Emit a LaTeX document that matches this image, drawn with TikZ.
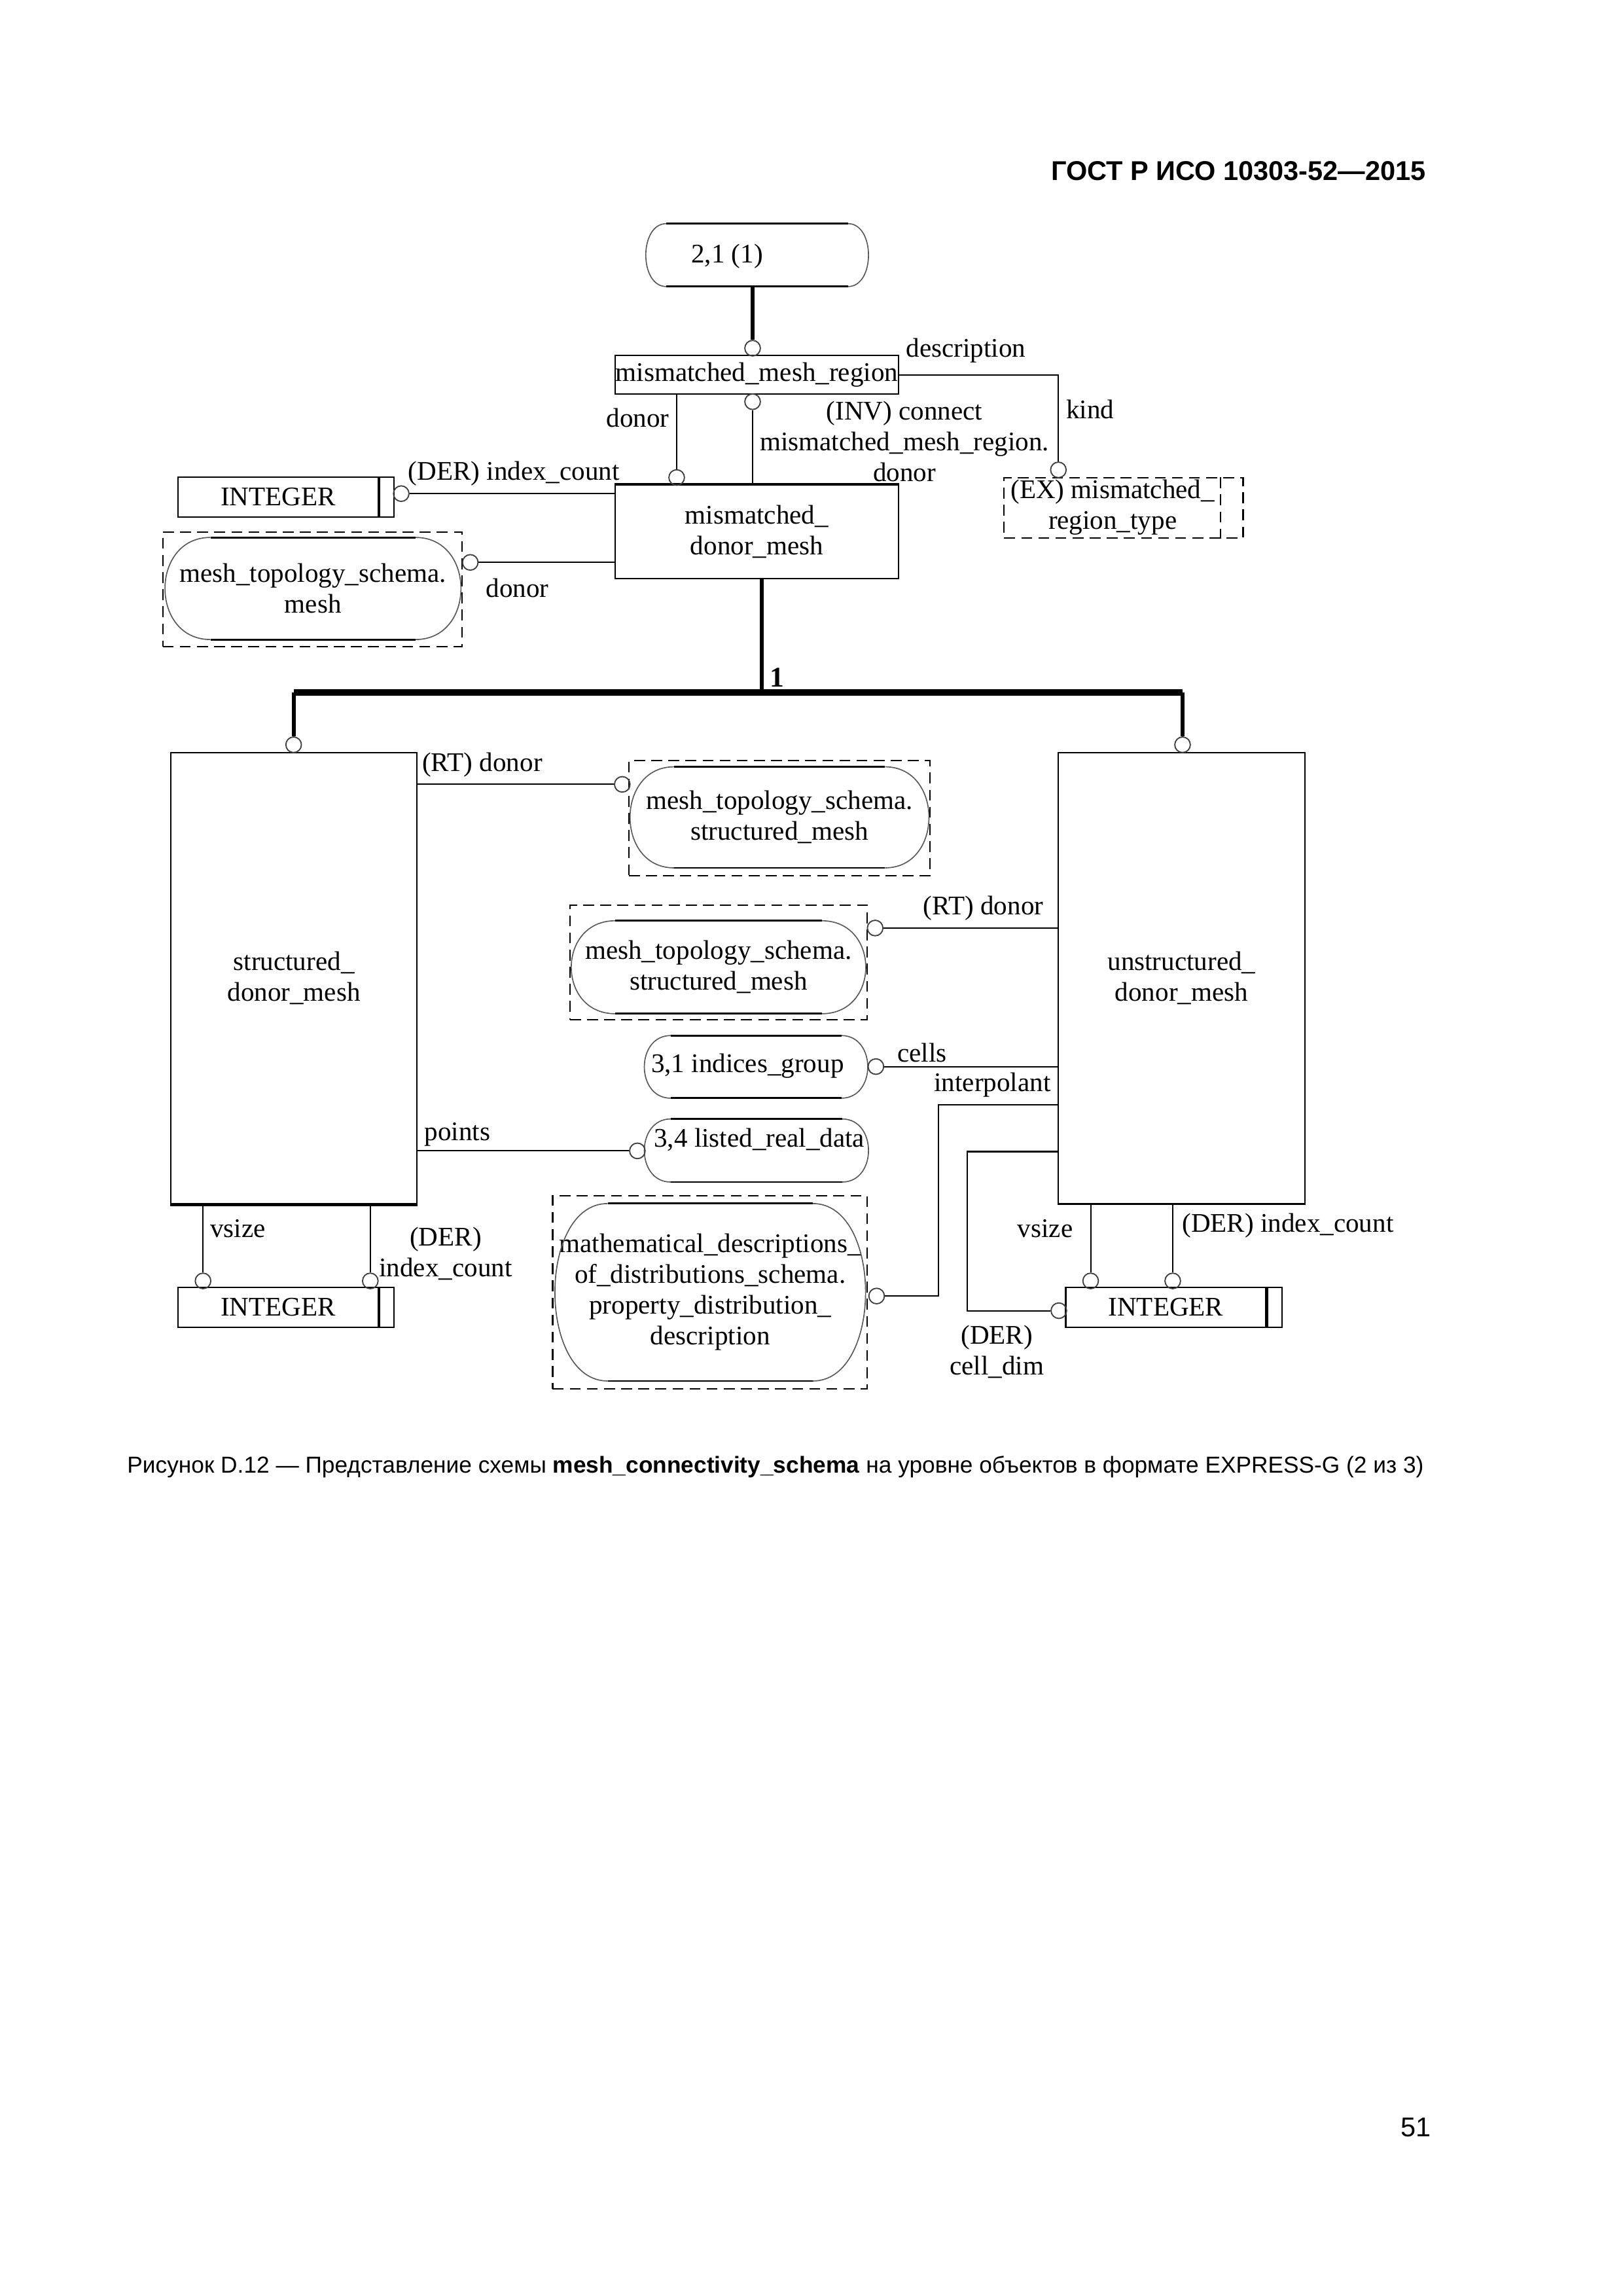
\documentclass[tikz,border=0pt]{standalone}
\usepackage{fontspec}
\setmainfont{Liberation Serif}
\newfontfamily\gostsans{Liberation Sans}

\newcommand{\upx}{0.18968mm}
% rounded ends of a schema reference
\newcommand{\roundends}[2]{%
  \draw[line width=0.7pt]
    ([xshift=#2*\upx]#1.north west) -- ([xshift=-#2*\upx]#1.north east)
    ([xshift=#2*\upx]#1.south west) -- ([xshift=-#2*\upx]#1.south east);
  \draw[black!65, line width=0.4pt]
    ([xshift=#2*\upx]#1.north west)
      .. controls ([xshift=-#2*\upx/3]#1.north west) and ([xshift=-#2*\upx/3]#1.south west)
      .. ([xshift=#2*\upx]#1.south west)
    ([xshift=-#2*\upx]#1.north east)
      .. controls ([xshift=#2*\upx/3]#1.north east) and ([xshift=#2*\upx/3]#1.south east)
      .. ([xshift=-#2*\upx]#1.south east);
}
% simple type box
\newcommand{\inttype}[3]{%
  \node[entity={147.4}{27.4}] (#1) at (#2,#3) {};
  \draw[line width=1pt] ([xshift=-10.8*\upx]#1.north east) -- ([xshift=-10.8*\upx]#1.south east);
  \node (#1txt) at ([xshift=-5.4*\upx]#1.center) {INTEGER};
}

\begin{document}
\begin{tikzpicture}[x=\upx, y=-\upx, line width=0.5pt,
    every node/.style={font=\fontsize{9.9}{11.35}\selectfont, inner sep=0pt, align=center},
    entity/.style 2 args={draw, minimum width=#1*\upx, minimum height=#2*\upx},
    refshape/.style 2 args={minimum width=#1*\upx, minimum height=#2*\upx},
    dashframe/.style 2 args={draw, dash pattern=on 4pt off 2.3pt, minimum width=#1*\upx, minimum height=#2*\upx},
    ring/.style={circle, draw=black!75, line width=0.45pt, minimum size=10.6*\upx},
    heavy/.style={line width=1.5pt},
    busline/.style={line width=2.4pt}]
        \useasboundingbox (0,0) rectangle (1107.1,1566.1);

        \node[font=\gostsans\bfseries\fontsize{10}{12}\selectfont, anchor=east] (gost) at (973,116.5) {ГОСТ Р ИСО 10303-52—2015};

        % supertype and its attributes
        \node[refshape={151}{42}] (ref21) at (516.5,174) {};
        \roundends{ref21}{14}
        \node (ref21txt) at (496,175) {2,1 (1)};

        \node[entity={193.4}{26.2}] (mmr) at (516.3,255.6) {mismatched\_mesh\_region};
        \node[entity={193.4}{63.5}] (mdm) at (516.3,362.7) {mismatched\_\\donor\_mesh};
        \draw[line width=1pt] (mdm.north west) -- (mdm.north east);

        \node[dashframe={163}{41}] (extype) at (766.5,346.5) {};
        \draw[dash pattern=on 4pt off 2.3pt] ([xshift=-16*\upx]extype.north east) -- ([xshift=-16*\upx]extype.south east);
        \node (extypetxt) at (759,346) {(EX) mismatched\_\\region\_type};

        \inttype{int0}{195.1}{339}

        \node[dashframe={204}{78.2}] (meshframe) at (213,401.9) {};
        \node[refshape={201}{68.7}] (mesh) at (213.5,401.4) {mesh\_topology\_schema.\\mesh};
        \roundends{mesh}{31}

        % subtypes
        \node[entity={168}{308}] (sdm) at (200.5,667.2) {structured\_\\donor\_mesh};
        \draw[line width=1pt] (sdm.south west) -- (sdm.south east);
        \node[entity={168}{308}] (udm) at (806,667.2) {unstructured\_\\donor\_mesh};

        \node[dashframe={205.5}{78.6}] (smframea) at (531.75,558.1) {};
        \node[refshape={203}{68}] (sma) at (531.75,557.5) {mesh\_topology\_schema.\\structured\_mesh};
        \roundends{sma}{30}
        \node[dashframe={202.7}{78}] (smframeb) at (490.15,656.5) {};
        \node[refshape={200}{62.5}] (smb) at (490.15,659.75) {mesh\_topology\_schema.\\structured\_mesh};
        \roundends{smb}{30}

        \node[refshape={151.5}{41.8}] (indices) at (515.75,727.7) {};
        \roundends{indices}{18}
        \node[anchor=west] (indicestxt) at (443.8,727) {3,1 indices\_group};
        \node[refshape={152}{42.1}] (listed) at (516,784.75) {};
        \roundends{listed}{18}
        \node[anchor=west] (listedtxt) at (445.7,777.5) {3,4 listed\_real\_data};

        \node[dashframe={214.5}{131.8}] (mathframe) at (484.25,881.4) {};
        \node[refshape={211}{120.1}] (math) at (484.5,881.45) {mathematical\_descriptions\_\\of\_distributions\_schema.\\property\_distribution\_\\description};
        \roundends{math}{36}

        \inttype{int1}{195.1}{891.75}
        \inttype{int2}{800.7}{891.75}

        % rings
        \node[ring] (ctop) at (513.4,237.5) {};
        \node[ring] (ckind) at (722,320.5) {};
        \node[ring] (cdonor) at (461.6,325.7) {};
        \node[ring] (cinv) at (513.4,274) {};
        \node[ring] (cidx) at (273.7,336.7) {};
        \node[ring] (cmesh) at (320.8,383.6) {};
        \node[ring] (csdm) at (200.3,508) {};
        \node[ring] (cudm) at (806.7,508) {};
        \node[ring] (crta) at (424.5,535) {};
        \node[ring] (crtb) at (597,633) {};
        \node[ring] (ccells) at (597.5,727.5) {};
        \node[ring] (cpoints) at (434.8,785) {};
        \node[ring] (cinterp) at (598,884) {};
        \node[ring] (cvsa) at (138.5,873.7) {};
        \node[ring] (cica) at (252.6,873.7) {};
        \node[ring] (cvsb) at (744,873.7) {};
        \node[ring] (cicb) at (800,873.7) {};
        \node[ring] (cdim) at (722.3,894) {};

        \coordinate (bus) at (519.7,472.3);
        \coordinate (busl) at (200.3,472.3);
        \coordinate (busr) at (806.7,472.3);
        \coordinate (ipbend) at (640,753.5);
        \coordinate (cdbend) at (660,785.5);

        \draw[heavy] (ref21.south -| ctop) -- (ctop.north);
        \draw (mmr.east) -| (ckind.north);
        \draw (mmr.south -| cdonor) -- (cdonor.north);
        \draw (cinv.south) -- (cinv.south |- mdm.north);
        \draw (cidx.east) -- (cidx.east -| mdm.west);
        \draw (cmesh.east) -- (cmesh.east -| mdm.west);

        \draw[heavy] (mdm.south -| bus) -- (bus);
        \draw[busline] (busl) -- (busr);
        \draw[heavy] (busl) -- (csdm.north);
        \draw[heavy] (busr) -- (cudm.north);

        \draw (crta.west -| sdm.east) -- (crta.west);
        \draw (crtb.east) -- (crtb.east -| udm.west);
        \draw (ccells.east) -- (ccells.east -| udm.west);
        \draw (cpoints.west -| sdm.east) -- (cpoints.west);
        \draw (cinterp.east) -| (ipbend) -- (ipbend -| udm.west);
        \draw (cdbend -| udm.west) -- (cdbend) |- (cdim.west);
        \draw (sdm.south -| cvsa) -- (cvsa.north);
        \draw (sdm.south -| cica) -- (cica.north);
        \draw (udm.south -| cvsb) -- (cvsb.north);
        \draw (udm.south -| cicb) -- (cicb.north);

        % attribute labels
        \node (ldescr) at (659,239) {description};
        \node (lkind) at (743.6,279) {kind};
        \node (ldonora) at (435,285) {donor};
        \node (linv) at (617,301) {(INV) connect\\mismatched\_mesh\_region.\\donor};
        \node (lidx) at (350.6,323) {(DER) index\_count};
        \node (ldonorb) at (353,401) {donor};
        \node[font=\fontsize{10.5}{12}\selectfont\bfseries] (lone) at (530,462) {1};
        \node (lrta) at (329,521.5) {(RT) donor};
        \node (lrtb) at (670.8,619.6) {(RT) donor};
        \node (lcells) at (629,718) {cells};
        \node (linterp) at (677,740) {interpolant};
        \node (lpoints) at (312,774) {points};
        \node[anchor=west] (lvsa) at (143,838) {vsize};
        \node (lica) at (304,855) {(DER)\\index\_count};
        \node (lvsb) at (713,838) {vsize};
        \node[anchor=west] (licb) at (806,836) {(DER) index\_count};
        \node (ldim) at (680,922) {(DER)\\cell\_dim};

        \node[font=\gostsans\fontsize{8.5}{10}\selectfont] (caption) at (529,1000.5) {Рисунок D.12 — Представление схемы \textbf{mesh\_connectivity\_schema} на уровне объектов в формате EXPRESS-G (2 из 3)};
        \node[font=\gostsans\fontsize{10}{12}\selectfont] (pageno) at (966,1451) {51};
    \end{tikzpicture}
\end{document}
